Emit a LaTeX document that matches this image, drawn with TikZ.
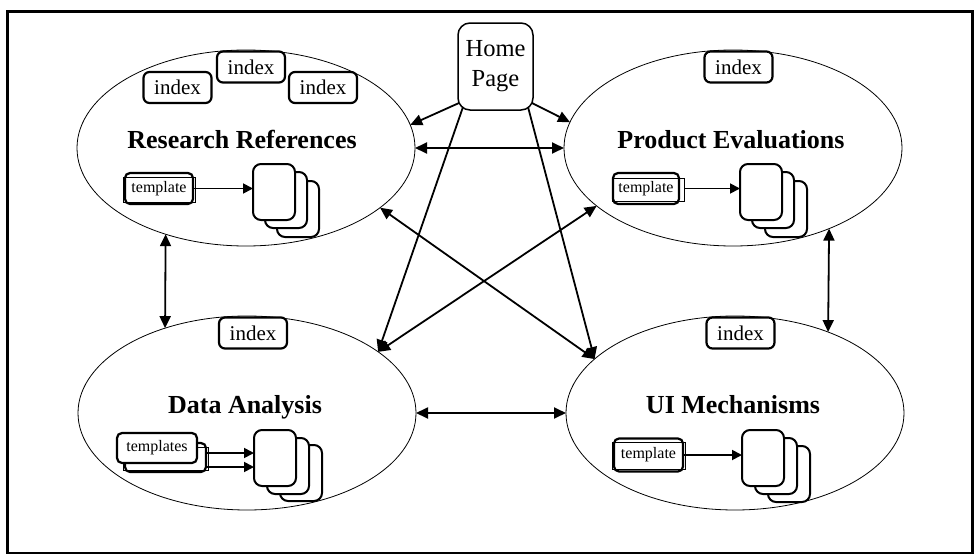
\documentclass[tikz,border=0pt]{standalone}
\usepackage{fontspec}
\setmainfont{Liberation Serif}
\usetikzlibrary{arrows.meta,shapes.geometric}
\begin{document}
\begin{tikzpicture}[x=1pt, y=-1pt,
    >={Triangle[length=12pt,width=11pt]},
    every node/.style={align=center, inner sep=0pt, outer sep=0pt},
    area/.style={draw, ellipse, line width=0.8pt, minimum width=338pt, minimum height=196pt},
    area label/.style={anchor=base, font=\fontsize{26}{28}\selectfont\bfseries},
    index box/.style={draw, fill=white, rounded corners=6pt, line width=2.2pt, minimum width=68pt, minimum height=31pt, font=\fontsize{21}{24}\selectfont},
    template box/.style={draw, fill=white, rounded corners=5pt, line width=2.2pt, minimum width=68pt, minimum height=31pt, font=\fontsize{16}{18}\selectfont},
    page/.style={draw, fill=white, rounded corners=8pt, line width=2pt, minimum width=42pt, minimum height=56pt},
    link/.style={draw, line width=1.8pt, <->},
    one way/.style={draw, line width=1.8pt, ->},
    small arrow/.style={draw, line width=1.8pt, -{Triangle[length=10pt,width=10pt]}},
    ]
\useasboundingbox (0,0) rectangle (978,554);
\draw[line width=3pt] (7,11) rectangle (972,553.5);
% the four areas
\node[area] (RR) at (246,148) {};
\node[area] (PE) at (733,148) {};
\node[area, minimum height=194pt] (DA) at (247,413) {};
\node[area, minimum height=194pt] (UI) at (735,413) {};
\node[area label] (RRtitle) at (242,148) {Research References};
\node[area label] (PEtitle) at (731,148) {Product Evaluations};
\node[area label] (DAtitle) at (245,413) {Data Analysis};
\node[area label] (UItitle) at (733,413) {UI Mechanisms};
% index pages
\node[index box] (RRidx1) at (177.5,87.5) {index};
\node[index box] (RRidx2) at (251,67) {index};
\node[index box] (RRidx3) at (323,87.5) {index};
\node[index box] (PEidx) at (738.5,67) {index};
\node[index box] (DAidx) at (253,333) {index};
\node[index box] (UIidx) at (740.5,333) {index};
% home page
\node[draw, fill=white, rounded corners=12pt, line width=1.5pt, minimum width=75pt, minimum height=87pt,
      font=\fontsize{24.5}{30}\selectfont] (Home) at (495.5,66.5) {Home\\Page};
% templates and generated pages
\node[template box] (RRtpl) at (159,188.5) {template};
\draw[line width=0.8pt] ([xshift=-2pt,yshift=-4pt]RRtpl.north west) rectangle ([xshift=2pt,yshift=2pt]RRtpl.south east);
\node[page] (RRpg3) at (298,209) {};
\node[page] (RRpg2) at (286,200) {};
\node[page] (RRpg1) at (274,192) {};
\draw[small arrow] (RRtpl.east) -- (RRtpl.east -| RRpg1.west);

\node[template box, minimum width=66pt] (PEtpl) at (646,188.5) {template};
\draw[line width=0.8pt] ([xshift=-1pt,yshift=-5pt]PEtpl.north west) rectangle ([xshift=5pt,yshift=3pt]PEtpl.south east);
\node[page] (PEpg3) at (786,209) {};
\node[page] (PEpg2) at (773,200) {};
\node[page] (PEpg1) at (761,192) {};
\draw[small arrow] ([xshift=5pt]PEtpl.east) -- (PEtpl.east -| PEpg1.west);

\node[template box, minimum width=81pt, minimum height=29pt] (DAtplB) at (165.5,457.5) {};
\draw[line width=0.8pt] ([xshift=-2pt,yshift=-4pt]DAtplB.north west) rectangle ([xshift=2pt,yshift=2pt]DAtplB.south east);
\node[template box, minimum width=80pt, minimum height=30pt] (DAtpl) at (157,448) {templates};
\node[page] (DApg3) at (301,473) {};
\node[page] (DApg2) at (288,466) {};
\node[page] (DApg1) at (275,458) {};
\draw[small arrow] ([yshift=4.5pt]DAtplB.east) -- ([yshift=4.5pt]DAtplB.east -| DApg1.west);
\draw[small arrow] ([yshift=-9.5pt]DAtplB.east) -- ([yshift=-9.5pt]DAtplB.east -| DApg1.west);

\node[template box, minimum width=69pt, minimum height=33pt] (UItpl) at (648.5,455) {template};
\draw[line width=0.8pt] ([xshift=-2pt,yshift=-4pt]UItpl.north west) rectangle ([xshift=2pt,yshift=2pt]UItpl.south east);
\node[page] (UIpg3) at (789,474) {};
\node[page] (UIpg2) at (776,466) {};
\node[page] (UIpg1) at (763,458) {};
\draw[small arrow] (UItpl.east) -- (UItpl.east -| UIpg1.west);
% links between the areas
\draw[link] (RR.east) -- (PE.west);
\draw[link] (DA.east) -- (UI.west);
\draw[link] (RR.227) -- (DA.134);
\draw[link] (PE.-40) -- (UI.41);
\draw[link] (RR.-24) -- (UI.159);
\draw[link] (PE.203) -- (DA.25);
% links from the home page
\draw[one way] ([xshift=1pt,yshift=7pt]Home.south west) -- (RR.8);
\draw[one way] ([xshift=-1pt,yshift=7pt]Home.south east) -- (PE.171);
\draw[one way] ([xshift=5pt,yshift=3pt]Home.south west) -- (DA.25);
\draw[one way] ([xshift=-5pt,yshift=3pt]Home.south east) -- (UI.159);
\end{tikzpicture}
\end{document}
